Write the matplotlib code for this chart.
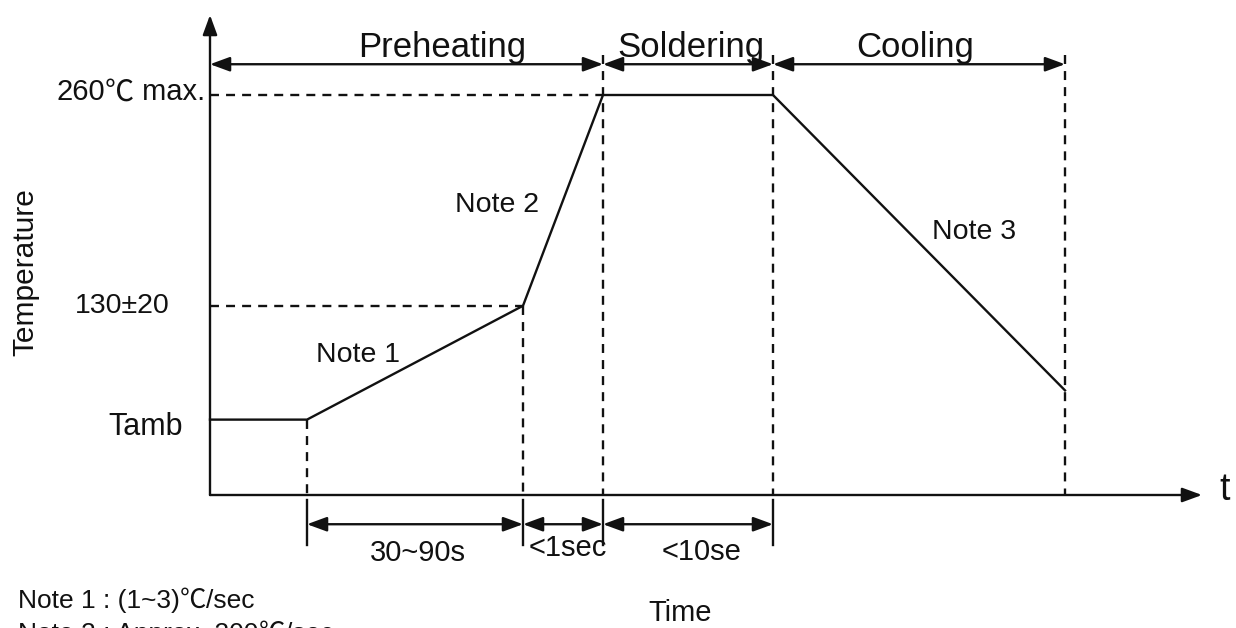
import matplotlib
matplotlib.use("Agg")
import matplotlib.pyplot as plt

# ---- data (schematic units: 1 time unit ~ arbitrary, temperature scaled so peak = 260) ----
profile_t = [0, 9.7, 31.3, 39.3, 56.3, 85.5]
profile_T = [49, 49, 123, 260, 260, 68]

T_amb = 49
T_soak = 123
T_peak = 260

phase_names = ["Preheating", "Soldering", "Cooling"]
phase_bounds = [0, 39.3, 56.3, 85.5]

interval_labels = ["30~90s", "<1sec", "<10se"]
interval_bounds = [9.7, 31.3, 39.3, 56.3]

peak_label_parts = ["260", "\u2103", " max."]
level_labels = ["130\u00b120", "Tamb"]
note_labels = ["Note 1", "Note 2", "Note 3"]
footnote1_parts = ["Note 1 : (1~3)", "\u2103", "/sec"]
footnote2_parts = ["Note 2 : Approx. 200", "\u2103", "/sec"]

# ---- figure ----
LAT = ['Liberation Sans', 'DejaVu Sans']
CJK = ['Noto Sans CJK SC', 'DejaVu Sans']
plt.rcParams['font.family'] = LAT
fig = plt.figure(figsize=(12.36, 6.28), dpi=100)
ax = fig.add_axes([0, 0, 1, 1])
ax.set_xlim(-21, 102.6)
ax.set_ylim(-86.45, 321.75)
ax.axis('off')
renderer = fig.canvas.get_renderer()

LW = 1.7
K = '#111111'
dash = (0, (3.8, 3.0))


def fam_for(s):
    return CJK if s == "\u2103" else LAT


def chain_right(x, y, parts, size):
    """Place parts so that the last one ends at x (right aligned), baseline y."""
    cur = x
    for s in reversed(parts):
        deg = s == "\u2103"
        t = ax.text(cur, y, s, ha='right', va='baseline', fontsize=size, color=K,
                    family=fam_for(s), fontweight='light' if deg else 'normal')
        bb = t.get_window_extent(renderer)
        cur = ax.transData.inverted().transform((bb.x0, bb.y0))[0]


def chain_left(x, y, parts, size):
    cur = x
    for s in parts:
        deg = s == "\u2103"
        t = ax.text(cur, y, s, ha='left', va='baseline', fontsize=size, color=K,
                    family=fam_for(s), fontweight='light' if deg else 'normal')
        bb = t.get_window_extent(renderer)
        cur = ax.transData.inverted().transform((bb.x1, bb.y0))[0]


# axes with arrows
arrow_axis = dict(arrowstyle='-|>,head_length=0.6,head_width=0.22', lw=LW, color=K,
                  mutation_scale=20, shrinkA=0, shrinkB=0)
ax.annotate('', xy=(0, 312), xytext=(0, 0), arrowprops=arrow_axis)
ax.annotate('', xy=(99.2, 0), xytext=(0, 0), arrowprops=arrow_axis)

# profile
ax.plot(profile_t, profile_T, color=K, lw=LW, solid_joinstyle='miter')

# dashed horizontal guides
ax.plot([0, profile_t[3]], [T_peak, T_peak], color=K, lw=LW, ls=dash)
ax.plot([0, profile_t[2]], [T_soak, T_soak], color=K, lw=LW, ls=dash)

# dashed vertical guides
ax.plot([profile_t[1]] * 2, [T_amb, 0], color=K, lw=LW, ls=dash)
ax.plot([profile_t[2]] * 2, [T_soak, 0], color=K, lw=LW, ls=dash)
for tb in phase_bounds[1:]:
    ax.plot([tb, tb], [286, 0], color=K, lw=LW, ls=dash)

# phase arrows on top
arrow_dim = dict(arrowstyle='<|-|>,head_length=0.6,head_width=0.22', lw=LW, color=K,
                 mutation_scale=20, shrinkA=0, shrinkB=0)
phase_y = 280
for i, name in enumerate(phase_names):
    a, b = phase_bounds[i], phase_bounds[i + 1]
    ax.annotate('', xy=(b, phase_y), xytext=(a, phase_y), arrowprops=arrow_dim)
phase_text_x = [23.2, 48.1, 70.5]
for name, x in zip(phase_names, phase_text_x):
    ax.text(x, 284.5, name, ha='center', va='baseline', fontsize=25, color=K)

# interval arrows at bottom
int_y = -19
for tb in interval_bounds:
    ax.plot([tb, tb], [-3, -32.5], color=K, lw=LW)
for i, lab in enumerate(interval_labels):
    a, b = interval_bounds[i], interval_bounds[i + 1]
    ax.annotate('', xy=(b, int_y), xytext=(a, int_y), arrowprops=arrow_dim)
int_text = [(20.8, -37.7), (35.8, -34.5), (49.2, -37)]
for lab, (x, y) in zip(interval_labels, int_text):
    ax.text(x, y, lab, ha='center', va='center', fontsize=21, color=K)

# level labels
chain_right(-0.5, T_peak - 3.5, peak_label_parts, 21)
ax.text(-4, T_soak, level_labels[0], ha='right', va='center', fontsize=20.5, color=K)
ax.text(-2.7, T_amb - 5, level_labels[1], ha='right', va='center', fontsize=22, color=K)

# axis titles
ax.text(-18.5, 145, "Temperature", rotation=90, ha='center', va='center', fontsize=21.5, color=K)
ax.text(47.0, -77.0, "Time", ha='center', va='center', fontsize=21, color=K)
ax.text(101.5, 3, "t", ha='center', va='center', fontsize=27, color=K)

# notes on curve
note_pos = [(10.6, 91), (24.5, 188.5), (72.2, 171)]
for lab, (x, y) in zip(note_labels, note_pos):
    ax.text(x, y, lab, ha='left', va='center', fontsize=20.5, color=K)

# footnotes
chain_left(-19.2, -73.5, footnote1_parts, 19)
chain_left(-19.2, -95, footnote2_parts, 19)

fig.savefig('out.png', dpi=100)
